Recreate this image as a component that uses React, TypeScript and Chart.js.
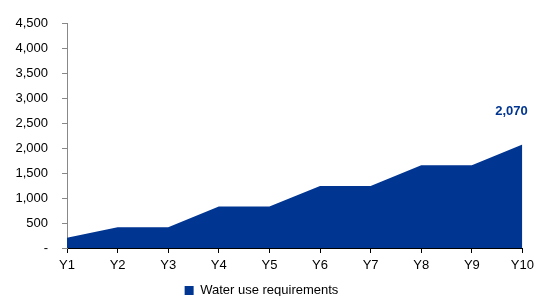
import React, { useEffect, useRef } from "react";
import { Chart, registerables } from "chart.js";

Chart.register(...registerables);

const categories = ["Y1", "Y2", "Y3", "Y4", "Y5", "Y6", "Y7", "Y8", "Y9", "Y10"];
const waterUse = [207, 414, 414, 828, 828, 1242, 1242, 1656, 1656, 2070];
const seriesName = "Water use requirements";
const lastLabel = "2,070";

const BLUE = "#003591";
const FONT = "'Liberation Sans', Arial, sans-serif";

const lastLabelPlugin = {
  id: "lastLabel",
  afterDatasetsDraw(chart: any) {
    const meta = chart.getDatasetMeta(0);
    const pt = meta.data[meta.data.length - 1];
    if (!pt) return;
    const ctx = chart.ctx;
    ctx.save();
    ctx.font = "bold 13px " + FONT;
    ctx.fillStyle = BLUE;
    ctx.textAlign = "center";
    ctx.textBaseline = "middle";
    ctx.fillText(lastLabel, pt.x - 11, pt.y - 33);
    ctx.restore();
  },
};

export default function App() {
  const ref = useRef<HTMLCanvasElement>(null);
  useEffect(() => {
    document.body.style.margin = "0";
    const chart = new Chart(ref.current!, {
      type: "line",
      data: {
        labels: categories,
        datasets: [
          {
            label: seriesName,
            data: waterUse,
            fill: "origin",
            backgroundColor: BLUE,
            borderColor: BLUE,
            borderWidth: 0,
            pointRadius: 0,
            tension: 0,
          },
        ],
      },
      plugins: [lastLabelPlugin],
      options: {
        animation: false,
        responsive: false,
        maintainAspectRatio: false,
        layout: { padding: { top: 23, right: 16, left: 0, bottom: -11 } },
        font: { family: FONT, size: 13 },
        plugins: {
          tooltip: { enabled: false },
          legend: {
            position: "bottom",
            labels: {
              color: "#000",
              boxWidth: 9,
              boxHeight: 9,
              padding: 0,
              font: { family: FONT, size: 13, lineHeight: 1 },
              generateLabels: () => [
                {
                  text: seriesName,
                  fillStyle: BLUE,
                  strokeStyle: BLUE,
                  lineWidth: 0,
                  hidden: false,
                  datasetIndex: 0,
                },
              ],
            },
          },
        },
        scales: {
          x: {
            offset: false,
            afterFit: (s: any) => {
              s.height = 36;
            },
            grid: {
              display: true,
              drawOnChartArea: false,
              drawTicks: true,
              tickLength: 5,
              color: "#000",
            },
            border: { display: true, color: "#000", width: 1 },
            ticks: {
              color: "#000",
              padding: 5,
              maxRotation: 0,
              autoSkip: false,
              font: { family: FONT, size: 13 },
            },
          },
          y: {
            min: 0,
            max: 4500,
            afterFit: (s: any) => {
              s.width = 67;
            },
            grid: {
              display: true,
              drawOnChartArea: false,
              drawTicks: true,
              tickLength: 5,
              color: "#888",
            },
            border: { display: true, color: "#888", width: 1 },
            ticks: {
              stepSize: 500,
              color: "#000",
              padding: 14,
              font: { family: FONT, size: 13 },
              callback: (v: any) => (Number(v) === 0 ? "-" : Number(v).toLocaleString("en-US")),
            },
          },
        },
      },
    });
    return () => chart.destroy();
  }, []);
  return <canvas ref={ref} width={539} height={296} style={{ display: "block" }} />;
}
